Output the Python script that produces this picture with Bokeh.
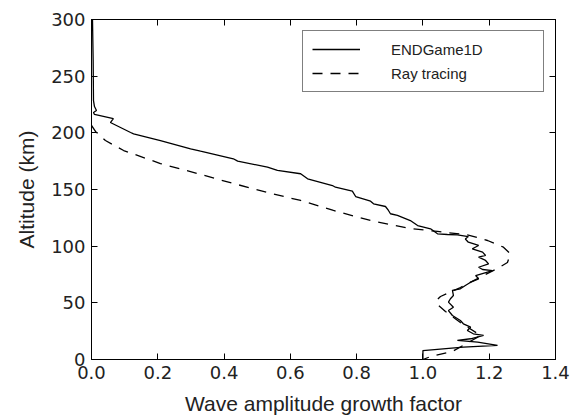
from bokeh.plotting import figure
from bokeh.models import Range1d, LinearAxis, FixedTicker, NumeralTickFormatter, CustomJSTickFormatter
from bokeh.embed import file_html
from bokeh.resources import INLINE

# ENDGame1D (solid)
endgame_x = [0.003, 0.005, 0.006, 0.009, 0.015, 0.006, 0.009, 0.066, 0.057, 0.118, 0.127,
             0.208, 0.299, 0.329, 0.428, 0.441, 0.531, 0.561, 0.631, 0.652, 0.727, 0.736,
             0.787, 0.797, 0.842, 0.851, 0.887, 0.896, 0.902, 0.923, 0.962, 0.984, 1.023,
             1.044, 1.074, 1.104, 1.137, 1.128, 1.137, 1.168, 1.149, 1.180, 1.189, 1.168,
             1.189, 1.198, 1.168, 1.180, 1.210, 1.159, 1.168, 1.144, 1.128, 1.113, 1.089,
             1.092, 1.083, 1.077, 1.092, 1.077, 1.089, 1.113, 1.122, 1.144, 1.134, 1.152,
             1.183, 1.144, 1.104, 1.165, 1.225, 1.122, 1.0, 1.0]
endgame_alt = [300, 263.8, 228.5, 223.2, 219.7, 218.0, 216.2, 212.6, 209.1, 200.3, 199.1,
               193.2, 185.9, 183.8, 177.1, 175.0, 169.7, 166.8, 163.9, 159.4, 153.5, 152.0,
               148.5, 143.8, 139.7, 137.4, 135.0, 131.5, 128.6, 127.1, 122.6, 118.2, 115.3,
               110.9, 110.3, 110.0, 108.5, 106.3, 103.5, 100.6, 97.7, 94.7, 91.8, 90.3,
               87.4, 84.4, 81.4, 79.4, 78.5, 74.1, 71.2, 68.2, 65.3, 62.4, 60.9,
               56.5, 53.6, 50.6, 46.1, 43.2, 38.8, 34.4, 31.5, 28.5, 25.6, 22.7,
               21.2, 18.3, 16.8, 15.3, 12.4, 10.9, 7.9, 0.0]

# Ray tracing (dashed)
ray_x = [0.000, 0.012, 0.042, 0.097, 0.208, 0.320, 0.428, 0.531, 0.631, 0.730, 0.842,
         0.962, 1.044, 1.134, 1.195, 1.243, 1.264, 1.255, 1.225, 1.183, 1.113, 1.053,
         1.041, 1.044, 1.068, 1.113, 1.174, 1.089, 1.023, 1.0]
ray_alt = [206.5, 201.2, 193.2, 184.4, 172.9, 164.1, 155.3, 147.4, 140.3, 131.5, 122.6,
           115.6, 113.0, 110.0, 105.0, 99.1, 93.3, 85.6, 80.3, 74.1, 63.5, 55.6,
           52.1, 48.5, 42.4, 32.6, 21.2, 7.1, 2.6, 0.0]

x_ticks = [0.0, 0.2, 0.4, 0.6, 0.8, 1.0, 1.2, 1.4]
y_ticks = [0, 50, 100, 150, 200, 250, 300]

TEXT = "#222222"

p = figure(width=580, height=418, output_backend="svg", toolbar_location=None,
           x_range=Range1d(0, 1.4), y_range=Range1d(0, 300),
           min_border_left=91, min_border_right=25, min_border_top=19, min_border_bottom=59)
p.background_fill_color = "white"
p.border_fill_color = "white"
p.outline_line_color = "black"
p.outline_line_width = 1
p.xgrid.visible = False
p.ygrid.visible = False

p.line(endgame_x, endgame_alt, line_color="black", line_width=1.3, legend_label="ENDGame1D")
p.line(ray_x, ray_alt, line_color="black", line_width=1.3, line_dash="10 8", legend_label="Ray tracing")

def style(ax):
    ax.axis_line_color = "black"
    ax.axis_line_width = 1
    ax.major_tick_in = 6
    ax.major_tick_out = 0
    ax.major_tick_line_color = "black"
    ax.minor_tick_line_color = None
    ax.major_label_text_font = "DejaVu Sans"
    ax.major_label_text_font_size = "18px"
    ax.major_label_text_color = TEXT
    ax.major_label_standoff = 6
    ax.axis_label_text_font = "Liberation Sans"
    ax.axis_label_text_font_size = "21px"
    ax.axis_label_text_font_style = "normal"
    ax.axis_label_text_color = TEXT
    ax.axis_label_standoff = 10

xax = p.xaxis[0]
yax = p.yaxis[0]
xax.ticker = FixedTicker(ticks=x_ticks)
yax.ticker = FixedTicker(ticks=y_ticks)
xax.formatter = NumeralTickFormatter(format="0.0")
xax.axis_label = "Wave amplitude growth factor"
yax.axis_label = "Altitude (km)"
style(xax)
style(yax)

# mirrored tick-only axes (top and right), no labels
top = LinearAxis(ticker=FixedTicker(ticks=x_ticks), major_label_text_font_size="0px",
                 major_label_text_alpha=0)
right = LinearAxis(ticker=FixedTicker(ticks=y_ticks))
for ax in (top, right):
    style(ax)
    ax.major_label_standoff = 0
    ax.major_label_overrides = {}
top.major_label_overrides = {t: "" for t in x_ticks}
right.major_label_overrides = {t: "" for t in y_ticks}
top.major_label_text_font_size = "1px"
right.major_label_text_font_size = "1px"
p.add_layout(top, "above")
p.add_layout(right, "right")

lg = p.legend[0]
lg.location = "top_right"
lg.margin = 11
lg.padding = 9
lg.spacing = 6
lg.glyph_width = 48
lg.glyph_height = 18
lg.label_height = 18
lg.label_width = 143
lg.label_standoff = 31
lg.label_text_font = "Liberation Sans"
lg.label_text_font_size = "15px"
lg.label_text_color = TEXT
lg.border_line_color = "black"
lg.border_line_width = 1
lg.background_fill_color = "white"
lg.background_fill_alpha = 1.0

open("out.html", "w").write(file_html(p, INLINE))
